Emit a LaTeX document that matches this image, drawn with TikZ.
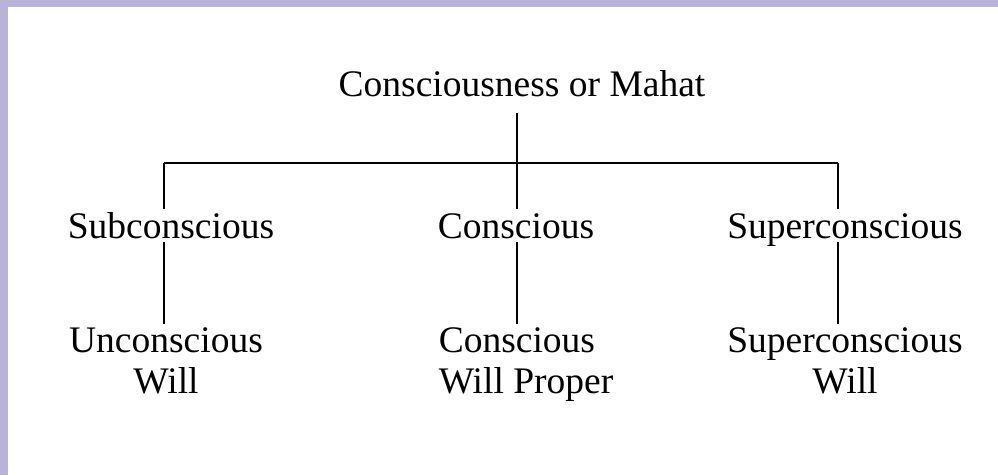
\documentclass[tikz,border=0pt]{standalone}
\usepackage{fontspec}
\setmainfont{Liberation Serif}
\definecolor{frame}{HTML}{B9B3D9}
\begin{document}
\begin{tikzpicture}[x=1pt,y=1pt,
  lbl/.style={font=\fontsize{37.5}{41}\selectfont, inner sep=4pt, text height=25pt, text depth=0pt, anchor=base},
  lbltwo/.style={font=\fontsize{37.5}{41}\selectfont, inner sep=3pt, anchor=base},
  conn/.style={line width=1.6pt, black}]
\useasboundingbox (0,0) rectangle (998,-475);
\fill[white] (0,0) rectangle (998,-475);
\fill[frame] (0,0) rectangle (998,-7);
\fill[frame] (0,0) rectangle (8,-475);
% nodes
\node[lbl] (top) at (522,-96) {Consciousness or Mahat};
\node[lbl] (sub) at (171,-238) {Subconscious};
\node[lbl] (con) at (516,-238) {Conscious};
\node[lbl] (sup) at (845,-238) {Superconscious};
\node[lbltwo, align=center] (unc) at (166,-393) {Unconscious\\Will};
\node[lbltwo, align=left] (cwp) at (526,-393) {Conscious\\Will Proper};
\node[lbltwo, align=center] (scw) at (845,-393) {Superconscious\\Will};
% junctions
\coordinate (L) at (164,-163);
\coordinate (M) at (517,-163);
\coordinate (R) at (838,-163);
% connectors
\draw[conn] (L) -- (R);
\draw[conn, shorten >=13pt] (M) -- (top.south -| M);
\draw[conn] (L) -- (sub.north -| L);
\draw[conn] (M) -- (con.north -| M);
\draw[conn] (R) -- (sup.north -| R);
\draw[conn] (sub.south -| L) -- (unc.north -| L);
\draw[conn] (con.south -| M) -- (cwp.north -| M);
\draw[conn] (sup.south -| R) -- (scw.north -| R);
\end{tikzpicture}
\end{document}
